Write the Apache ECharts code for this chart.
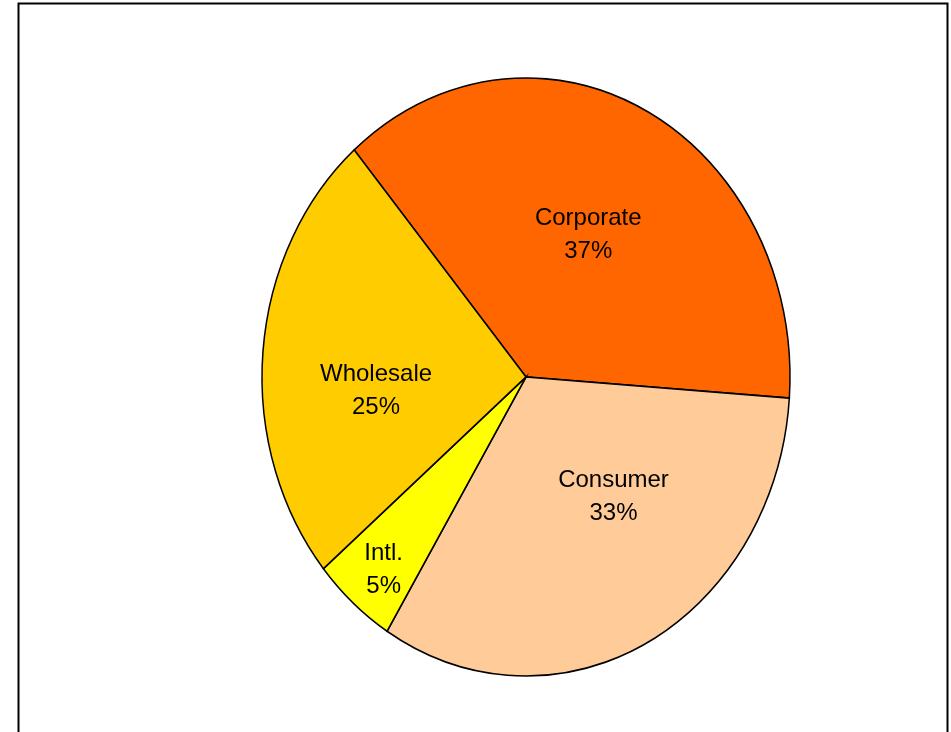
<!DOCTYPE html>
<html>
<head>
<meta charset="utf-8">
<script src="https://cdn.jsdelivr.net/npm/echarts@6/dist/echarts.min.js"></script>
<style>
  html, body { margin: 0; padding: 0; background: #fff; }
  #chart { width: 951px; height: 732px; }
</style>
</head>
<body>
<div id="chart"></div>
<script>
// Revenue share by segment (percent)
const categories = ['Corporate', 'Consumer', 'Intl.', 'Wholesale'];
const shares = [37.4, 32.7, 5.1, 24.8];

// Slice fills
const sliceColors = {
  'Corporate': '#FF6600',
  'Consumer': '#FFCC99',
  'Intl.': '#FFFF00',
  'Wholesale': '#FFCC00'
};

// Label placement inside each slice: fraction of radius, angular nudge (deg)
const labelPlacement = {
  'Corporate': { r: 0.53, shift: 0.3 },
  'Consumer': { r: 0.52, shift: 12.5 },
  'Intl.': { r: 0.84, shift: 1.0 },
  'Wholesale': { r: 0.57, shift: 9.5 }
};

// Pie geometry (elliptical pie: circle scaled vertically)
const pie = { cx: 526, cy: 377, rx: 264, ry: 299, startAngle: 130.6 };

const total = shares.reduce((a, b) => a + b, 0);
const cumulative = shares.map((_, i) => shares.slice(0, i).reduce((a, b) => a + b, 0));

function renderSlice(params, api) {
  const i = params.dataIndex;
  const name = categories[i];
  const value = api.value(0);
  const thetaStart = pie.startAngle - 360 * cumulative[i] / total;
  const thetaEnd = thetaStart - 360 * value / total;
  const toRad = Math.PI / 180;

  const place = labelPlacement[name];
  const mid = (thetaStart + thetaEnd) / 2 + place.shift;
  const lx = pie.cx + place.r * pie.rx * Math.cos(mid * toRad);
  const ly = pie.cy - place.r * pie.ry * Math.sin(mid * toRad);
  const pct = Math.round(value / total * 100) + '%';

  return {
    type: 'group',
    children: [
      {
        type: 'sector',
        x: pie.cx,
        y: pie.cy,
        scaleY: pie.ry / pie.rx,
        shape: {
          cx: 0, cy: 0, r0: 0, r: pie.rx,
          startAngle: -thetaStart * toRad,
          endAngle: -thetaEnd * toRad,
          clockwise: true
        },
        style: { fill: sliceColors[name], stroke: '#000', lineWidth: 1.5 }
      },
      {
        type: 'text',
        x: lx,
        y: ly,
        z2: 10,
        style: {
          text: name + '\n' + pct,
          fill: '#000',
          fontFamily: '"Liberation Sans", Arial, sans-serif',
          fontSize: 24,
          lineHeight: 33,
          align: 'center',
          verticalAlign: 'middle'
        }
      }
    ]
  };
}

const chart = echarts.init(document.getElementById('chart'), null, { renderer: 'canvas' });
chart.setOption({
  animation: false,
  backgroundColor: '#fff',
  graphic: [
    {
      type: 'rect',
      left: 16,
      top: 1,
      shape: { width: 929, height: 760 },
      style: { fill: 'none', stroke: '#000', lineWidth: 2 },
      silent: true
    }
  ],
  series: [
    {
      type: 'custom',
      coordinateSystem: 'none',
      renderItem: renderSlice,
      data: shares.map(v => [v])
    }
  ]
});
</script>
</body>
</html>
